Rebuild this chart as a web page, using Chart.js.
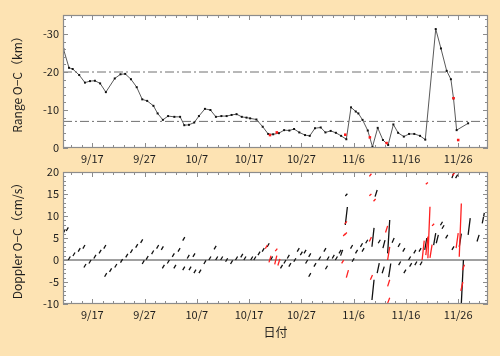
<!DOCTYPE html>
<html>
<head>
<meta charset="utf-8">
<script src="https://cdn.jsdelivr.net/npm/chart.js@4"></script>
<style>
  html, body { margin:0; padding:0; background:#fde3b3; }
  body { width:500px; height:356px; position:relative; overflow:hidden; }
  canvas { position:absolute; left:0; }
</style>
</head>
<body>
<canvas id="c1" width="500" height="168" style="top:0;width:500px;height:168px"></canvas>
<canvas id="c2" width="500" height="188" style="top:168px;width:500px;height:188px"></canvas>
<script>
// ---------- DATA ----------
// day numbers counted from Sep 1 (9/17 = 16)
const xMin = 10.4, xMax = 91.7;
const tickDays   = [16, 26, 36, 46, 56, 66, 76, 86];
const tickLabels = ['9/17', '9/27', '10/7', '10/17', '10/27', '11/6', '11/16', '11/26'];

const rangeTicks      = [-30, -20, -10, 0];
const rangeTickLabels = ['-30', '-20', '-10', '0'];
const dopplerTicks      = [-10, -5, 0, 5, 10, 15, 20];
const dopplerTickLabels = ['-10', '-5', '0', '5', '10', '15', '20'];

const refLevels = [-20, -7];

const rangeDays = [10.40, 10.50, 11.55, 12.25, 13.5, 14.6, 15.56, 16.5, 17.5, 18.6,
                   20.3, 21.4, 22.3, 23.4, 24.5, 25.56, 26.5, 27.7, 28.5, 29.5,
                   30.5, 31.7, 32.8, 33.6, 34.5, 35.5, 36.4, 37.55, 38.6, 39.65,
                   40.7, 41.7, 42.65, 43.6, 44.6, 45.5, 46.2, 47.4, 48.6, 49.65,
                   50.6, 51.7, 52.7, 53.7, 54.6, 55.6, 56.7, 57.6, 58.6, 59.7,
                   60.6, 61.6, 62.6, 63.6, 64.6, 65.5, 66.4, 66.9, 67.7, 68.7,
                   69.6, 70.6, 71.6, 72.6, 73.6, 74.5, 75.6, 76.6, 77.6, 78.7,
                   79.7, 81.7, 82.7, 83.8, 84.6, 85.1, 85.7, 87.9];
const rangeVals = [-29.8, -26.0, -21.1, -20.8, -19.2, -17.2, -17.6, -17.7, -17.0, -14.7,
                   -18.3, -19.4, -19.5, -18.1, -16.0, -12.8, -12.4, -11.1, -9.1, -7.4,
                   -8.4, -8.2, -8.2, -6.0, -6.1, -6.7, -8.4, -10.3, -10.0, -8.2,
                   -8.4, -8.4, -8.7, -8.9, -8.2, -8.0, -7.8, -7.5, -5.6, -3.7,
                   -3.6, -3.9, -4.7, -4.6, -5.0, -4.1, -3.4, -3.2, -5.2, -5.4,
                   -4.1, -4.5, -4.0, -3.2, -2.3, -10.7, -9.6, -9.1, -7.4, -4.6,
                   -0.3, -5.3, -2.1, -0.8, -6.2, -4.0, -3.0, -3.7, -3.7, -3.2,
                   -2.2, -31.3, -26.2, -20.3, -18.1, -13.1, -4.7, -6.5];
const rangeRedDays = [50.0, 51.3, 64.4, 69.1, 72.3, 85.1, 86.0];
const rangeRedVals = [-3.4, -4.1, -3.5, -2.8, -1.3, -13.1, -2.1];

// Doppler residual passes: centre day, centre value, value extent
const dopBlackDays = [10.57, 11.22, 11.6, 12.5, 13.5, 14.4, 14.6, 15.56, 16.5, 17.5,
                      18.4, 18.56, 19.5, 20.5, 21.6, 22.6, 23.5, 24.5, 25.45, 25.75,
                      26.5, 27.55, 28.5, 29.4, 29.6, 30.55, 31.5, 31.8, 32.6, 33.5,
                      33.5, 34.36, 34.7, 35.45, 35.64, 36.6, 37.55, 38.5, 39.5, 39.8,
                      40.75, 41.7, 42.65, 43.6, 44.6, 45.2, 46.5, 47.1, 47.9, 48.7,
                      49.65, 50.3, 52.2, 52.85, 53.5, 53.8, 54.75, 55.4, 56.0, 56.7,
                      57.0, 57.6, 57.6, 58.6, 59.5, 60.5, 60.8, 61.1, 62.1, 62.7,
                      63.4, 63.7, 64.6, 64.6, 65.6, 65.9, 66.55, 67.5, 67.8, 68.5,
                      69.7, 69.7, 70.3, 70.9, 70.7, 71.65, 71.8, 72.7, 72.9, 73.55,
                      74.7, 74.8, 75.6, 75.8, 76.7, 76.9, 77.7, 77.9, 78.7, 78.9,
                      79.8, 81.5, 82.0, 82.8, 83.1, 83.8, 85.0, 85.0, 85.7, 86.4,
                      86.8, 88.1, 89.8, 90.8];
const dopBlackVals = [6.4, 7.0, 0.4, 1.3, 2.3, 3.0, -1.3, -0.4, 0.75, 1.9,
                      3.0, -3.4, -2.3, -1.3, -0.2, 1.0, 2.0, 3.2, 4.3, -0.5,
                      0.5, 1.75, 3.0, 2.7, -1.5, -0.4, 1.1, -1.5, 2.3, 4.8,
                      -1.9, 0.75, -1.9, 1.1, -2.6, -2.6, -0.5, 0.4, 2.8, 0.4,
                      0.4, 0.0, -0.5, 0.4, 1.0, 0.4, 0.4, 0.4, 1.5, 2.3,
                      3.4, 0.4, -1.5, -0.4, 0.75, -1.1, 0.0, 2.3, 1.5, 1.9,
                      -0.4, 1.1, -3.4, -1.1, 0.4, 2.3, -1.7, 0.4, 0.75, 0.4,
                      1.9, 1.65, 10.0, 14.8, 3.0, 0.0, 1.9, 3.4, 2.3, 4.2,
                      5.15, -6.8, 15.15, 4.2, -1.85, -2.25, 3.6, 5.3, -2.35, 4.45,
                      3.4, -0.75, 2.3, -2.6, 0.4, -1.1, 1.9, -0.75, 2.3, -0.75,
                      3.65, 4.75, 4.75, 8.3, 7.5, 5.3, 2.7, 19.3, 19.0, 4.5,
                      -4.9, 7.6, 4.95, 9.5];
const dopBlackLens = [0.8, 0.8, 0.8, 0.8, 0.8, 0.8, 0.8, 0.8, 0.8, 0.8,
                      0.8, 0.8, 0.8, 0.8, 0.8, 0.8, 0.8, 0.8, 0.8, 0.8,
                      0.8, 0.8, 0.8, 0.8, 0.8, 0.8, 0.8, 0.8, 0.8, 0.8,
                      0.8, 0.8, 0.8, 0.8, 0.8, 0.8, 0.8, 0.8, 0.8, 0.8,
                      0.8, 0.8, 0.8, 0.8, 0.8, 0.8, 0.8, 0.8, 0.8, 0.8,
                      0.8, 0.8, 0.8, 0.8, 0.8, 0.8, 0.8, 0.8, 0.8, 0.8,
                      0.8, 0.8, 0.8, 0.8, 0.8, 0.8, 0.8, 0.8, 0.8, 0.8,
                      0.8, 1.3, 4.1, 0.5, 0.8, 0.8, 0.8, 0.8, 0.8, 0.8,
                      4.3, 4.6, 1.5, 0.8, 2.3, 1.5, 1.8, 7.6, 3.1, 1.1,
                      0.8, 0.8, 0.8, 0.8, 0.8, 0.8, 0.8, 0.8, 0.8, 0.8,
                      2.7, 2.7, 1.9, 0.8, 0.8, 0.8, 0.8, 1.4, 0.8, 3.0,
                      9.8, 3.8, 1.5, 2.4];

const dopRedDays = [49.3, 50.0, 51.1, 51.2, 51.7, 63.9, 64.2, 64.5, 64.5, 64.8,
                    69.2, 69.2, 69.2, 69.4, 70.0, 72.3, 72.7, 72.7, 72.7, 79.3,
                    80.0, 80.4, 80.0, 80.8, 81.2, 85.1, 85.8, 86.4, 87.0, 86.7];
const dopRedVals = [3.0, 0.2, 0.0, 2.3, -0.5, -0.4, 5.7, 8.5, 6.0, -3.15,
                    19.3, 14.8, 4.7, -3.95, 13.6, 7.0, 1.5, -5.25, -9.2, 2.2,
                    3.2, 6.25, 17.4, 2.0, 8.0, 19.5, 4.4, 6.8, -1.7, -6.0];
const dopRedLens = [0.8, 1.5, 2.0, 0.6, 1.5, 0.7, 0.5, 0.6, 0.5, 1.7,
                    0.6, 0.4, 1.0, 1.1, 0.5, 1.5, 3.0, 1.5, 1.2, 4.4,
                    4.2, 11.7, 0.4, 3.0, 0.5, 0.6, 3.4, 12.1, 1.2, 2.0];

// ---------- BUILD ----------
Chart.defaults.font.family = "'Noto Sans CJK JP', 'Noto Sans', sans-serif";
Chart.defaults.color = '#1e1e1e';
Chart.defaults.animation = false;

function pts(xs, ys) { return xs.map((x, i) => ({x: x, y: ys[i]})); }
function dashes(days, vals, lens) {
  const out = [];
  const hw = 0.2;
  days.forEach((d, i) => {
    out.push({x: d - hw, y: vals[i] - lens[i] / 2});
    out.push({x: d + hw, y: vals[i] + lens[i] / 2});
    out.push({x: d, y: null});
  });
  return out;
}
function noPad(s) { s.paddingTop = 0; s.paddingBottom = 0; s.paddingLeft = 0; s.paddingRight = 0; }

const framePlugin = {
  id: 'frame',
  beforeDatasetsDraw(chart) {
    const {ctx, chartArea: a} = chart;
    ctx.save();
    ctx.fillStyle = '#ffffff';
    ctx.fillRect(a.left, a.top, a.right - a.left, a.bottom - a.top);
    ctx.restore();
  },
  afterDatasetsDraw(chart, args, o) {
    const {ctx, chartArea: a} = chart;
    const x = chart.scales.x, y = chart.scales.y;
    ctx.save();
    ctx.strokeStyle = '#8c8c8c';
    ctx.lineWidth = 1;
    ctx.beginPath();
    for (let d = 10; d <= 92; d += 2) {
      if (d < x.min || d > x.max) continue;
      const px = Math.round(x.getPixelForValue(d)) + 0.5;
      const len = tickDays.includes(d) ? 5 : 3;
      ctx.moveTo(px, a.bottom); ctx.lineTo(px, a.bottom - len);
      ctx.moveTo(px, a.top); ctx.lineTo(px, a.top + len);
    }
    for (let v = o.yFrom; v <= o.yTo; v += o.yStep) {
      const py = Math.round(y.getPixelForValue(v)) + 0.5;
      const len = (v % o.yMajor === 0) ? 5 : 3;
      ctx.moveTo(a.left, py); ctx.lineTo(a.left + len, py);
      ctx.moveTo(a.right, py); ctx.lineTo(a.right - len, py);
    }
    ctx.stroke();
    ctx.lineWidth = 1.2;
    ctx.strokeRect(a.left + 0.5, a.top + 0.5, a.right - a.left - 1, a.bottom - a.top - 1);
    ctx.restore();
  }
};

function xScale(h, extra) {
  return Object.assign({
    type: 'linear', min: xMin, max: xMax,
    grid: {display: false, drawTicks: false}, border: {display: false},
    afterBuildTicks: s => { s.ticks = tickDays.map(v => ({value: v})); },
    afterFit: s => { s.height = h; noPad(s); },
    ticks: {
      autoSkip: false, maxRotation: 0, padding: 4,
      font: {size: 11},
      callback: (v, i) => tickLabels[i]
    }
  }, extra);
}

// ---- top: Range O-C ----
new Chart(document.getElementById('c1'), {
  type: 'line',
  data: {
    datasets: [
      {
        data: pts(rangeRedDays, rangeRedVals), showLine: false, order: 1,
        pointStyle: 'rect', pointRadius: 1.8, pointBackgroundColor: '#ff1a1a',
        pointBorderColor: '#ff1a1a', pointBorderWidth: 0
      },
      {
        data: pts(rangeDays, rangeVals), order: 2,
        borderColor: '#5a5a5a', borderWidth: 1, tension: 0,
        pointStyle: 'rect', pointRadius: 1.4, pointBackgroundColor: '#111',
        pointBorderColor: '#111', pointBorderWidth: 0
      },
      ...refLevels.map(lv => ({
        data: pts([xMin, xMax], [lv, lv]), order: 3,
        borderColor: '#707070', borderWidth: 1, borderDash: [9, 3, 2, 3],
        pointRadius: 0
      }))
    ]
  },
  options: {
    responsive: false,
    layout: {padding: {left: 0, right: 12, top: 15, bottom: 0}},
    plugins: {
      legend: {display: false}, tooltip: {enabled: false},
      frame: {yFrom: -34, yTo: 0, yStep: 2, yMajor: 10}
    },
    scales: {
      x: xScale(20, {}),
      y: {
        type: 'linear', min: -35, max: 0, reverse: true,
        grid: {display: false, drawTicks: false}, border: {display: false},
        afterBuildTicks: s => { s.ticks = rangeTicks.map(v => ({value: v})); },
        afterFit: s => { s.width = 63; noPad(s); },
        ticks: {padding: 4, font: {size: 11}, callback: (v, i) => rangeTickLabels[i]},
        title: {display: true, text: 'Range O−C（km）', font: {size: 12}, padding: {top: 10, bottom: 0}}
      }
    }
  },
  plugins: [framePlugin]
});

// ---- bottom: Doppler O-C ----
new Chart(document.getElementById('c2'), {
  type: 'line',
  data: {
    datasets: [
      {
        data: dashes(dopRedDays, dopRedVals, dopRedLens), order: 1,
        borderColor: '#ff2020', borderWidth: 1.3, spanGaps: false, pointRadius: 0
      },
      {
        data: dashes(dopBlackDays, dopBlackVals, dopBlackLens), order: 2,
        borderColor: '#111', borderWidth: 1.3, spanGaps: false, pointRadius: 0
      },
      {
        data: pts([xMin, xMax], [0, 0]), order: 3,
        borderColor: '#a0a0a0', borderWidth: 2, pointRadius: 0
      }
    ]
  },
  options: {
    responsive: false,
    layout: {padding: {left: 0, right: 12, top: 4, bottom: 0}},
    plugins: {
      legend: {display: false}, tooltip: {enabled: false},
      frame: {yFrom: -10, yTo: 20, yStep: 1, yMajor: 5}
    },
    scales: {
      x: xScale(52, {
        title: {display: true, text: '日付', font: {size: 12}, padding: {top: 0, bottom: 16}}
      }),
      y: {
        type: 'linear', min: -10, max: 20,
        grid: {display: false, drawTicks: false}, border: {display: false},
        afterBuildTicks: s => { s.ticks = dopplerTicks.map(v => ({value: v})); },
        afterFit: s => { s.width = 63; noPad(s); },
        ticks: {padding: 4, font: {size: 11}, callback: (v, i) => dopplerTickLabels[i]},
        title: {display: true, text: 'Doppler O−C（cm/s）', font: {size: 12}, padding: {top: 10, bottom: 0}}
      }
    }
  },
  plugins: [framePlugin]
});
</script>
</body>
</html>
